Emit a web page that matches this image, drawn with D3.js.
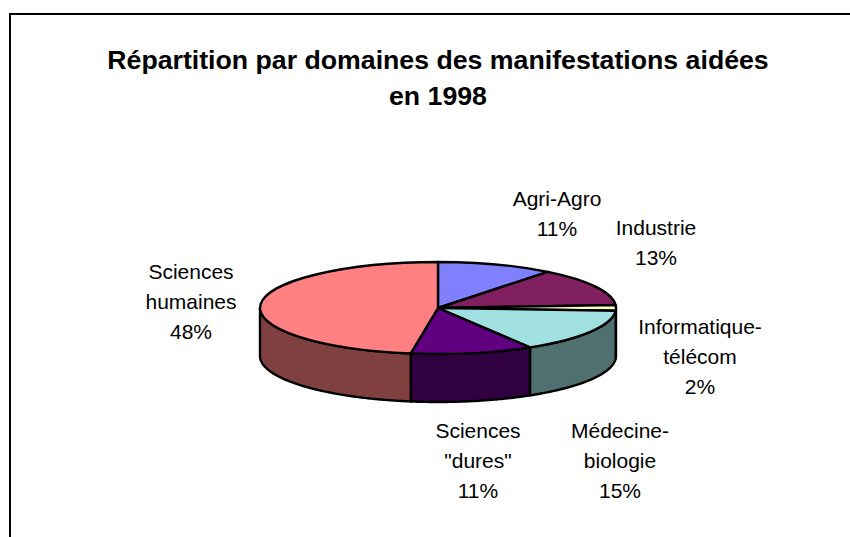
<!DOCTYPE html>
<html>
<head>
<meta charset="utf-8">
<script src="https://cdn.jsdelivr.net/npm/d3@7"></script>
<style>
  html, body { margin: 0; padding: 0; background: #fff; }
  svg { display: block; }
  text { font-family: "Liberation Sans", Arial, sans-serif; fill: #000; }
</style>
</head>
<body>
<svg id="chart" width="850" height="537"></svg>
<script>
// Chart data, clockwise from 12 o'clock
var categories = ["Agri-Agro", "Industrie", "Informatique-télécom", "Médecine-biologie", "Sciences \"dures\"", "Sciences humaines"];
var values = [10.6, 13.4, 2.0, 15.4, 11.1, 47.6];
var topColors = ["#8080ff", "#802060", "#ffffc0", "#a0e0e0", "#600080", "#ff8080"];
var sideColors = ["#404080", "#401030", "#808060", "#507070", "#300040", "#804040"];
var titleLines = ["Répartition par domaines des manifestations aidées", "en 1998"];

// Label lines and where each one sits
var labelLines = [["Agri-Agro", "11%"], ["Industrie", "13%"], ["Informatique-", "télécom", "2%"],
    ["Médecine-", "biologie", "15%"], ["Sciences", "\"dures\"", "11%"], ["Sciences", "humaines", "48%"]];
var labelPos = [[557, 206], [656, 235], [700, 334], [620, 438], [478, 438], [191, 279]];

var svg = d3.select("#chart");

// Pie geometry: flattened ellipse plus wall height
var cx = 438, cy = 308, rx = 178, ry = 46, depth = 48;

// Frame is only top and left, it runs off the picture
svg.append("path")
    .attr("d", "M10,537V14H850")
    .attr("fill", "none")
    .attr("stroke", "#000")
    .attr("stroke-width", 2);

// Title
svg.append("g").selectAll("text").data(titleLines).join("text")
    .attr("x", 438)
    .attr("y", (d, i) => 69 + i * 36)
    .attr("text-anchor", "middle")
    .attr("font-size", 26.7)
    .attr("font-weight", "bold")
    .text(d => d);

var arcs = d3.pie().sort(null)(values);

// Walls, only the front half of the ellipse shows
var wall = d3.area()
    .x(t => cx + rx * Math.sin(t))
    .y0(t => cy - ry * Math.cos(t))
    .y1(t => cy - ry * Math.cos(t) + depth);

svg.append("g").selectAll("path")
    .data(arcs.filter(d => d.endAngle > Math.PI / 2 && d.startAngle < 3 * Math.PI / 2))
    .join("path")
    .attr("d", d => {
        var a0 = Math.max(d.startAngle, Math.PI / 2),
            a1 = Math.min(d.endAngle, 3 * Math.PI / 2);
        return wall(d3.range(a0, a1, 0.01).concat([a1])) + "Z";
    })
    .attr("fill", d => sideColors[d.index])
    .attr("stroke", "#000")
    .attr("stroke-width", 2.4)
    .attr("stroke-linejoin", "round");

// Top face: d3.arc squashed to an ellipse
var arc = d3.arc().innerRadius(0).outerRadius(rx);
svg.append("g")
    .attr("transform", "translate(" + cx + "," + cy + ") scale(1," + (ry / rx) + ")")
    .selectAll("path").data(arcs).join("path")
    .attr("d", arc)
    .attr("fill", d => topColors[d.index])
    .attr("stroke", "#000")
    .attr("stroke-width", 2.4)
    .attr("stroke-linejoin", "round")
    .attr("vector-effect", "non-scaling-stroke");

// Labels
var lab = svg.append("g").selectAll("text").data(labelLines).join("text")
    .attr("text-anchor", "middle")
    .attr("font-size", 21)
    .attr("data-category", (d, i) => categories[i]);
lab.selectAll("tspan").data((d, i) => d.map(s => [s, i])).join("tspan")
    .attr("x", d => labelPos[d[1]][0])
    .attr("y", (d, j) => labelPos[d[1]][1] + j * 30)
    .text(d => d[0]);
</script>
</body>
</html>
